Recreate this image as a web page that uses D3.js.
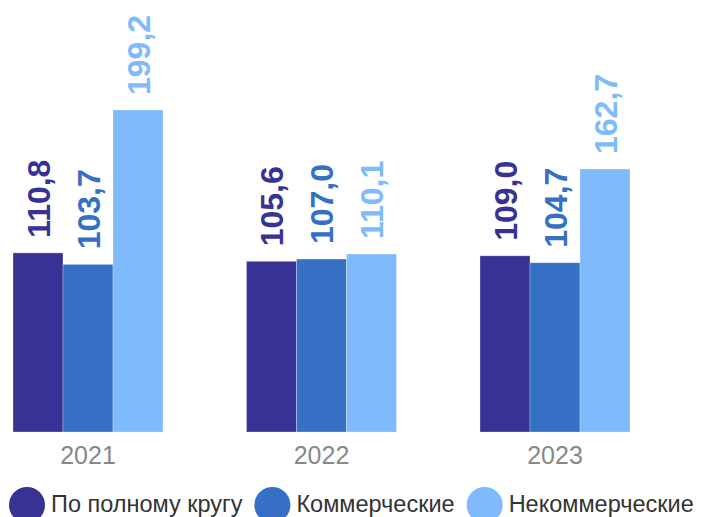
<!DOCTYPE html>
<html>
<head>
<meta charset="utf-8">
<script src="https://cdn.jsdelivr.net/npm/d3@7"></script>
<style>
  body { margin: 0; background: #fff; }
  svg { display: block; font-family: Arial, "Liberation Sans", sans-serif; }
</style>
</head>
<body>
<div id="chart"></div>
<script>
// data
const years = ["2021", "2022", "2023"];
const seriesNames = ["По полному кругу", "Коммерческие", "Некоммерческие"];
const fullCircle = [110.8, 105.6, 109.0];
const commercial = [103.7, 107.0, 104.7];
const nonCommercial = [199.2, 110.1, 162.7];
const colors = ["#373294", "#3570c4", "#7fbafc"];

const seriesValues = [fullCircle, commercial, nonCommercial];

const width = 702, height = 517;
const baseline = 432;

const svg = d3.select("#chart").append("svg")
    .attr("width", width)
    .attr("height", height);

// scales
const x0 = d3.scaleBand()
    .domain(years)
    .range([-28.75, 671.75])
    .paddingInner(0.3576)
    .paddingOuter(0.1788);

const x1 = d3.scaleBand()
    .domain(seriesNames)
    .range([0, x0.bandwidth()]);

const y = d3.scaleLinear()
    .domain([0, 200])
    .range([baseline, baseline - 323.3]);

const fmt = v => d3.format(".1f")(v).replace(".", ",");

const groups = svg.selectAll(".year")
  .data(years)
  .enter().append("g")
    .attr("class", "year")
    .attr("transform", d => "translate(" + x0(d) + ",0)");

groups.selectAll("rect")
  .data((d, i) => seriesNames.map((s, j) => ({s: s, j: j, v: seriesValues[j][i]})))
  .enter().append("rect")
    .attr("x", d => x1(d.s))
    .attr("y", d => y(d.v))
    .attr("width", x1.bandwidth())
    .attr("height", d => baseline - y(d.v))
    .attr("fill", d => colors[d.j])
    .attr("stroke", "#ffffff")
    .attr("stroke-opacity", 0.35)
    .attr("stroke-width", 0.8);

// value labels, rotated
groups.selectAll(".val")
  .data((d, i) => seriesNames.map((s, j) => ({s: s, j: j, v: seriesValues[j][i]})))
  .enter().append("text")
    .attr("class", "val")
    .attr("transform", d => "translate(" + (x1(d.s) + x1.bandwidth() / 2) + "," + (y(d.v) - 15) + ") rotate(-90)")
    .attr("dy", "0.36em")
    .attr("fill", d => colors[d.j])
    .style("font-size", "32px")
    .style("font-weight", "bold")
    .text(d => fmt(d.v));

// x axis labels
const xAxis = svg.append("g")
    .attr("transform", "translate(0," + baseline + ")")
    .call(d3.axisBottom(x0).tickSize(0).tickPadding(11));
xAxis.select(".domain").remove();
xAxis.selectAll("text")
    .attr("fill", "#888888")
    .attr("dy", "0.85em")
    .style("font-size", "25px")
    .style("font-family", "Arial, 'Liberation Sans', sans-serif");

// legend
const legend = svg.append("g").attr("class", "legend");
let lx = 9;
seriesNames.forEach((name, i) => {
  const item = legend.append("g");
  item.append("circle")
      .attr("cx", lx + 18)
      .attr("cy", 505)
      .attr("r", 18)
      .attr("fill", colors[i]);
  const t = item.append("text")
      .attr("x", lx + 42)
      .attr("y", 512)
      .attr("fill", "#333333")
      .style("font-size", "23.5px")
      .text(name);
  lx = lx + 42 + t.node().getComputedTextLength() + 12;
});
</script>
</body>
</html>
